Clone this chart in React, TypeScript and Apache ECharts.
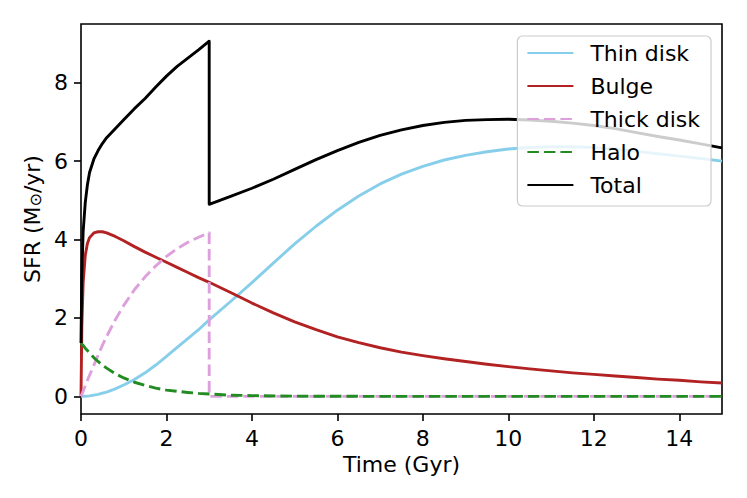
import React, { useEffect, useRef } from "react";
import * as echarts from "echarts";

// Time grid (Gyr); 3.0 appears twice for the thick-disk cut-off
const time = [
  0, 0.02, 0.05, 0.1, 0.15, 0.2, 0.3, 0.4, 0.5, 0.6,
  0.8, 1.0, 1.25, 1.5, 1.75, 2.0, 2.25, 2.5, 2.75, 3.0,
  3.0,
  3.5, 4, 4.5, 5, 5.5, 6, 6.5, 7, 7.5, 8, 8.5, 9, 9.5, 10, 10.5, 11, 11.5, 12, 12.5, 13, 13.5, 14, 14.5, 15,
];

const thinDisk = [
  0, 0, 0.001, 0.003, 0.007, 0.012, 0.03, 0.05, 0.08, 0.11,
  0.19, 0.29, 0.43, 0.6, 0.8, 1.02, 1.25, 1.47, 1.7, 1.95,
  1.95,
  2.42, 2.9, 3.4, 3.89, 4.34, 4.75, 5.11, 5.42, 5.67, 5.87, 6.03, 6.15, 6.24, 6.31, 6.35, 6.37, 6.37, 6.35, 6.31, 6.25, 6.19, 6.13, 6.07, 6.0,
];

const bulge = [
  0, 1.8, 2.9, 3.6, 3.9, 4.05, 4.17, 4.2, 4.2, 4.17,
  4.08, 3.97, 3.82, 3.68, 3.55, 3.42, 3.29, 3.16, 3.03, 2.91,
  2.91,
  2.65, 2.38, 2.13, 1.9, 1.7, 1.52, 1.37, 1.24, 1.13, 1.04, 0.96, 0.89, 0.82, 0.76, 0.7, 0.65, 0.6, 0.56, 0.52, 0.48, 0.44, 0.41, 0.37, 0.34,
];

const thickDisk = [
  0, 0.05, 0.13, 0.27, 0.41, 0.54, 0.79, 1.05, 1.3, 1.53,
  1.95, 2.32, 2.72, 3.05, 3.33, 3.57, 3.77, 3.93, 4.06, 4.17,
  0,
  0, 0, 0, 0, 0, 0, 0, 0, 0, 0, 0, 0, 0, 0, 0, 0, 0, 0, 0, 0, 0, 0, 0, 0,
];

const halo = [
  1.36, 1.33, 1.3, 1.23, 1.17, 1.11, 0.99, 0.89, 0.8, 0.72,
  0.58, 0.47, 0.36, 0.28, 0.21, 0.16, 0.13, 0.1, 0.075, 0.06,
  0.06,
  0.03, 0.02, 0.01, 0.005, 0.003, 0.002, 0.001, 0, 0, 0, 0, 0, 0, 0, 0, 0, 0, 0, 0, 0, 0, 0, 0, 0,
];

const total = [
  1.36, 3.1, 4.2, 4.95, 5.4, 5.71, 6.05, 6.27, 6.45, 6.6,
  6.83, 7.06, 7.34, 7.6, 7.89, 8.17, 8.42, 8.63, 8.84, 9.06,
  4.9,
  5.1, 5.31, 5.54, 5.79, 6.04, 6.27, 6.48, 6.66, 6.8, 6.91, 6.99, 7.04, 7.06, 7.07, 7.05, 7.02, 6.97, 6.91, 6.83, 6.73, 6.63, 6.54, 6.44, 6.34,
];

const seriesNames = ["Thin disk", "Bulge", "Thick disk", "Halo", "Total"];
const yTicks = [0, 2, 4, 6, 8];
const xTicks = [0, 2, 4, 6, 8, 10, 12, 14];

const FONT = "DejaVu Sans";
const FS = 22;

const zip = (ys: number[]) => time.map((t, i) => [t, ys[i]]);

export default function App() {
  const ref = useRef<HTMLDivElement>(null);
  useEffect(() => {
    if (!ref.current) return;
    const chart = echarts.init(ref.current, null, { renderer: "svg" });
    const mk = (name: string, ys: number[], color: string, dashed: boolean) => ({
      name,
      type: "line",
      data: zip(ys),
      symbol: "none",
      showSymbol: false,
      smooth: false,
      lineStyle: { color, width: 2.9, type: dashed ? [11.5, 5] : "solid", cap: "butt", join: "round" },
      itemStyle: { color },
      emphasis: { disabled: true },
    });
    chart.setOption({
      animation: false,
      backgroundColor: "#ffffff",
      textStyle: { fontFamily: FONT },
      grid: {
        left: 81,
        right: 25,
        top: 24,
        bottom: 84,
        show: true,
        borderColor: "#000",
        borderWidth: 1.6,
        backgroundColor: "transparent",
      },
      legend: {
        orient: "vertical",
        right: 36,
        top: 36,
        data: seriesNames,
        itemWidth: 46,
        itemHeight: 14,
        itemGap: 11,
        padding: [6, 11, 10, 9],
        backgroundColor: "rgba(255,255,255,0.8)",
        borderColor: "#cccccc",
        borderWidth: 1.2,
        borderRadius: 5,
        itemStyle: { opacity: 0 },
        textStyle: { fontFamily: FONT, fontSize: FS, color: "#000", lineHeight: 22, padding: [0, 0, 0, 12] },
        selectedMode: false,
      },
      xAxis: {
        type: "value",
        min: 0,
        max: 15,
        interval: 2,
        name: "Time (Gyr)",
        nameLocation: "middle",
        nameGap: 38,
        nameTextStyle: { fontFamily: FONT, fontSize: FS, color: "#000" },
        axisLine: { show: false, onZero: false },
        axisTick: { show: true, inside: false, length: 7, customValues: xTicks, lineStyle: { color: "#000", width: 1.6 } },
        axisLabel: { fontFamily: FONT, fontSize: FS, color: "#000", margin: 13, customValues: xTicks },
        splitLine: { show: false },
      },
      yAxis: {
        type: "value",
        min: -0.45,
        max: 9.5,
        name: "{a|SFR (M}{b|⊙}{a|/yr)}",
        nameLocation: "middle",
        nameGap: 32,
        nameRotate: 90,
        nameTextStyle: {
          rich: {
            a: { fontFamily: FONT, fontSize: FS, color: "#000" },
            b: { fontFamily: FONT, fontSize: 16, color: "#000", verticalAlign: "bottom", padding: [6, 0, 0, 0] },
          },
        },
        axisLine: { show: false, onZero: false },
        axisTick: { show: true, inside: false, length: 7, customValues: yTicks, lineStyle: { color: "#000", width: 1.6 } },
        axisLabel: { fontFamily: FONT, fontSize: FS, color: "#000", margin: 13, customValues: yTicks },
        splitLine: { show: false },
      },
      series: [
        mk("Thin disk", thinDisk, "#87CEEB", false),
        mk("Bulge", bulge, "#B22222", false),
        mk("Thick disk", thickDisk, "#DDA0DD", true),
        mk("Halo", halo, "#228B22", true),
        mk("Total", total, "#000000", false),
      ],
    });
    return () => chart.dispose();
  }, []);
  return (
    <div
      ref={ref}
      style={{ position: "absolute", left: 0, top: 0, width: 747, height: 498 }}
    />
  );
}
